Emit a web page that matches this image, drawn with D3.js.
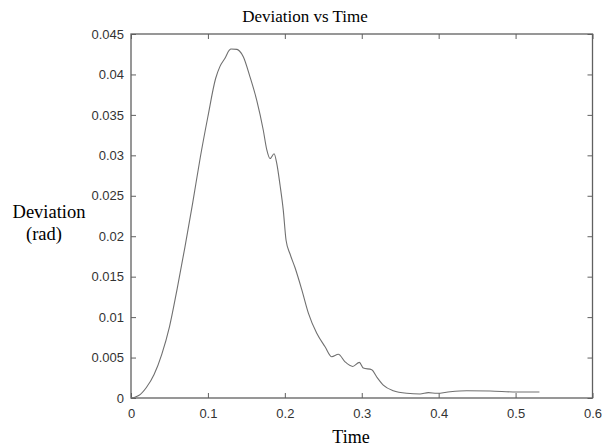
<!DOCTYPE html>
<html>
<head>
<meta charset="utf-8">
<script src="https://cdn.jsdelivr.net/npm/d3@7"></script>
<style>
  body { margin: 0; background: #fff; }
  svg { display: block; }
</style>
</head>
<body>
<div id="app"></div>
<script>
const chartW = 602;
const chartH = 448;

const times = [0, 0.005, 0.01, 0.02, 0.03, 0.04, 0.05, 0.06, 0.07, 0.08, 0.09,
    0.1, 0.11, 0.1157, 0.1222, 0.1278, 0.13, 0.1378, 0.141, 0.146, 0.1547,
    0.1635, 0.172, 0.1765, 0.1808, 0.186, 0.1895, 0.1938, 0.198, 0.2016, 0.2068, 0.2133,
    0.222, 0.2306, 0.2415, 0.2523, 0.261, 0.2696, 0.278, 0.2883, 0.2969, 0.302, 0.313,
    0.3195, 0.328, 0.341, 0.3585, 0.3758, 0.3866, 0.3975, 0.415, 0.4365, 0.4668, 0.5016, 0.531];
const deviation = [0, 0.0001, 0.0003, 0.0013, 0.0029, 0.0054, 0.0088, 0.0135, 0.0186, 0.024, 0.0297,
    0.0348, 0.0395, 0.041, 0.042, 0.043, 0.04315, 0.0431, 0.0429, 0.0422, 0.0397,
    0.0368, 0.0331, 0.0307, 0.0296, 0.0302, 0.029, 0.0263, 0.0232, 0.0195, 0.0178, 0.0161,
    0.0134, 0.0105, 0.008, 0.00634, 0.0051, 0.0054, 0.0045, 0.0039, 0.0044, 0.0037, 0.0035,
    0.0026, 0.0016, 0.0009, 0.00058, 0.0005, 0.00066, 0.00058, 0.00078, 0.0009, 0.00087, 0.00074, 0.00074];

const xTicks = [0, 0.1, 0.2, 0.3, 0.4, 0.5, 0.6];
const yTicks = [0, 0.005, 0.01, 0.015, 0.02, 0.025, 0.03, 0.035, 0.04, 0.045];

const plotL = 131, plotR = 592.5, plotT = 34, plotB = 398;
const axisColor = "#606060";
const textColor = "#333";

const x = d3.scaleLinear().domain([0, 0.6]).range([plotL, plotR]);
const y = d3.scaleLinear().domain([0, 0.045]).range([plotB, plotT]);

const svg = d3.select("#app").append("svg")
    .attr("width", chartW)
    .attr("height", chartH);

function styleAxis(g, showLabels) {
    g.select(".domain").remove();
    g.selectAll(".tick line").attr("stroke", axisColor);
    g.selectAll(".tick text")
        .attr("fill", textColor)
        .style("font-family", "'Liberation Sans', Arial, sans-serif")
        .style("font-size", "13px");
    if (!showLabels) g.selectAll(".tick text").remove();
}

const fmt = d => d === 0 ? "0" : String(+d.toFixed(3));

//BOTTOM
svg.append("g")
    .attr("transform", `translate(0,${plotB})`)
    .call(d3.axisBottom(x).tickValues(xTicks).tickFormat(fmt).tickSizeInner(-5).tickSizeOuter(0).tickPadding(11))
    .call(g => styleAxis(g, true));
//TOP
svg.append("g")
    .attr("transform", `translate(0,${plotT})`)
    .call(d3.axisTop(x).tickValues(xTicks).tickSizeInner(-5).tickSizeOuter(0))
    .call(g => styleAxis(g, false));
//LEFT
svg.append("g")
    .attr("transform", `translate(${plotL},0)`)
    .call(d3.axisLeft(y).tickValues(yTicks).tickFormat(fmt).tickSizeInner(-5).tickSizeOuter(0).tickPadding(7))
    .call(g => styleAxis(g, true));
//RIGHT
svg.append("g")
    .attr("transform", `translate(${plotR},0)`)
    .call(d3.axisRight(y).tickValues(yTicks).tickSizeInner(-5).tickSizeOuter(0))
    .call(g => styleAxis(g, false));

//BOX
svg.append("rect")
    .attr("x", plotL)
    .attr("y", plotT)
    .attr("width", plotR - plotL)
    .attr("height", plotB - plotT)
    .style("fill", "none")
    .style("stroke", axisColor)
    .style("stroke-width", 1.3);

//CURVE
const line = d3.line()
    .x((d, i) => x(times[i]))
    .y(d => y(d))
    .curve(d3.curveMonotoneX);

svg.append("path")
    .datum(deviation)
    .attr("d", line)
    .style("fill", "none")
    .style("stroke", "#707070")
    .style("stroke-width", 1.1);

//LABELS
const serif = "'Liberation Serif', 'Times New Roman', serif";
svg.append("text")
    .attr("x", 305)
    .attr("y", 22)
    .attr("text-anchor", "middle")
    .style("font-family", serif)
    .style("font-size", "17px")
    .text("Deviation vs Time");

svg.append("text")
    .attr("x", 351)
    .attr("y", 443)
    .attr("text-anchor", "middle")
    .style("font-family", serif)
    .style("font-size", "18px")
    .text("Time");

svg.append("text")
    .attr("x", 49)
    .attr("y", 218)
    .attr("text-anchor", "middle")
    .style("font-family", serif)
    .style("font-size", "18.5px")
    .text("Deviation");
svg.append("text")
    .attr("x", 44)
    .attr("y", 240)
    .attr("text-anchor", "middle")
    .style("font-family", serif)
    .style("font-size", "18.5px")
    .text("(rad)");
</script>
</body>
</html>
